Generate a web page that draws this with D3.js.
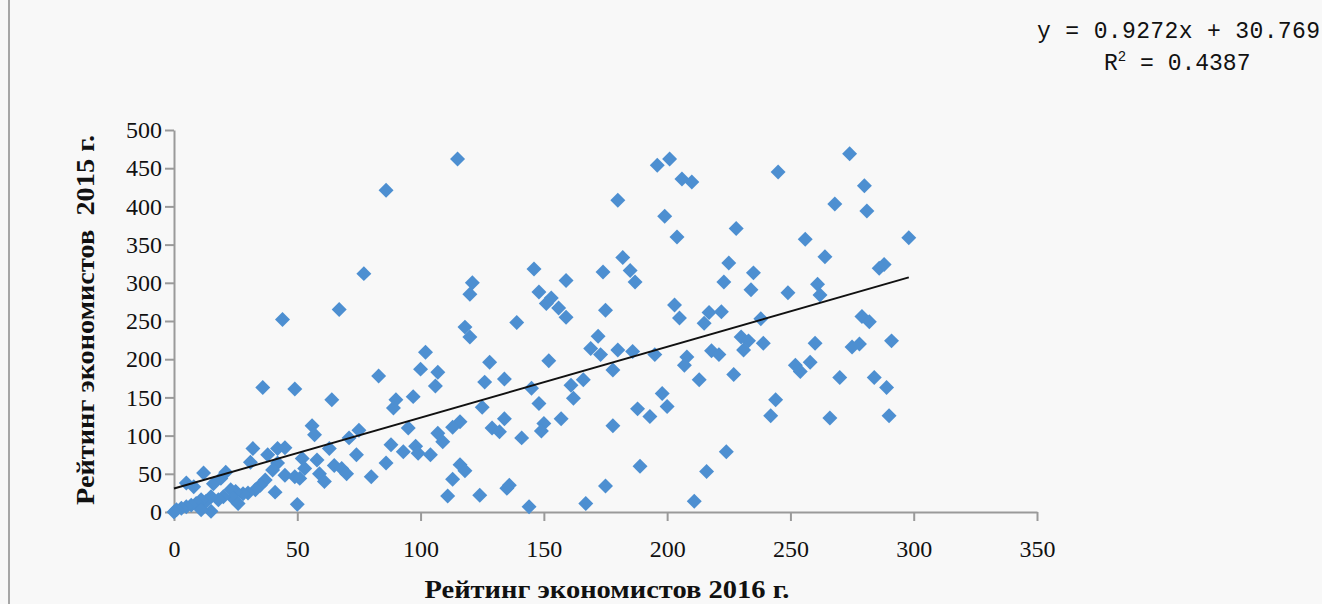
<!DOCTYPE html>
<html>
<head>
<meta charset="utf-8">
<script src="https://cdn.jsdelivr.net/npm/d3@7"></script>
<style>
  html, body { margin: 0; padding: 0; background: #f8f8f8; }
  svg { display: block; }
</style>
</head>
<body>
<div id="chart"></div>
<script>
// rating of economists: 2016 (x) and 2015 (y)
const rating2016 = [
  86, 77, 67, 44, 115, 146, 159, 174, 121, 120, 148, 153, 151, 156, 159, 175, 139, 118,
  196, 201, 206, 210, 245, 180, 199, 204, 228, 256, 264, 182, 185, 187, 225, 235, 223, 234,
  249, 261, 262, 203, 205, 217, 222, 215, 238, 274, 280, 268, 281, 298, 286, 288, 279, 282,
  275, 278, 291, 270, 284, 289, 266, 290, 180, 186, 195, 178, 208, 207, 218, 221, 230, 233,
  231, 239, 260, 252, 254, 258, 213, 227, 198, 200, 188, 193, 178, 244, 242, 224, 189, 216,
  175, 211, 120, 102, 100, 107, 106, 90, 89, 97, 128, 126, 134, 152, 172, 169, 173, 145,
  161, 162, 166, 148, 125, 157, 150, 149, 134, 129, 132, 141, 116, 113, 95, 107, 109, 88,
  93, 98, 99, 104, 86, 116, 118, 113, 136, 135, 111, 124, 144, 167, 83, 36, 49, 64,
  56, 57, 75, 71, 80, 32, 31, 38, 42, 45, 42, 40, 52, 58, 53, 63, 65, 68,
  70, 74, 59, 61, 45, 49, 51, 50, 41, 5, 8, 12, 16, 21, 19, 37, 35, 33,
  30, 28, 25, 23, 24, 26, 20, 18, 15, 13, 11, 9, 7, 5, 3, 1, 15, 11, 0
];
const rating2015 = [
  421, 312, 265, 252, 462, 318, 303, 314, 300, 285, 288, 280, 273, 267, 255, 264, 248, 242,
  454, 462, 436, 432, 445, 408, 387, 360, 371, 357, 334, 333, 316, 301, 326, 313, 301, 291,
  287, 298, 284, 271, 254, 261, 262, 247, 253, 469, 427, 403, 394, 359, 319, 324, 256, 249,
  216, 220, 224, 176, 176, 163, 123, 126, 212, 210, 206, 186, 203, 192, 211, 206, 229, 224,
  212, 221, 221, 192, 184, 196, 173, 180, 155, 138, 135, 125, 113, 147, 126, 79, 60, 53,
  34, 14, 229, 209, 187, 183, 165, 147, 136, 151, 196, 170, 174, 198, 230, 214, 206, 162,
  166, 149, 173, 142, 137, 122, 116, 106, 122, 110, 105, 97, 118, 111, 110, 103, 92, 88,
  79, 86, 77, 75, 64, 62, 54, 43, 35, 31, 21, 22, 7, 11, 178, 163, 161, 147,
  113, 101, 107, 97, 46, 83, 65, 75, 83, 84, 64, 55, 70, 68, 57, 83, 61, 57,
  50, 75, 50, 40, 48, 46, 44, 10, 26, 38, 33, 51, 37, 52, 44, 42, 35, 29,
  25, 24, 27, 29, 18, 11, 20, 16, 20, 14, 16, 11, 9, 7, 5, 3, 1, 3, 0
];

const xTicks = [0, 50, 100, 150, 200, 250, 300, 350];
const yTicks = [0, 50, 100, 150, 200, 250, 300, 350, 400, 450, 500];

const trendSlope = 0.9272;
const trendIntercept = 30.769;
const trendLabel = 'y = 0.9272x + 30.769';
const r2Label = '0.4387';

const xTitle = 'Рейтинг экономистов 2016 г.';
const yTitle = 'Рейтинг экономистов  2015 г.';

const width = 1322;
const height = 604;
const margin = { top: 130, right: 285, bottom: 92, left: 174 };

const data = rating2016.map((v, i) => ({ x: v, y: rating2015[i] }));

const svg = d3.select('#chart')
  .append('svg')
  .attr('width', width)
  .attr('height', height);

// left border of the chart frame
svg.append('line')
  .attr('x1', 9).attr('x2', 9)
  .attr('y1', 0).attr('y2', height)
  .attr('stroke', '#a6a6a6')
  .attr('stroke-width', 2);

const x = d3.scaleLinear()
  .domain([0, 350])
  .range([margin.left, width - margin.right]);

const y = d3.scaleLinear()
  .domain([0, 500])
  .range([height - margin.bottom, margin.top]);

const tickFont = '"Liberation Serif", "DejaVu Serif", serif';
const monoFont = '"Liberation Mono", "DejaVu Sans Mono", monospace';

let xAxis = (g) => {
  g.attr('transform', `translate(0,${height - margin.bottom})`)
    .call(d3.axisBottom(x).tickValues(xTicks).tickSize(9).tickSizeOuter(0).tickPadding(19));
};

let yAxis = (g) => {
  g.attr('transform', `translate(${margin.left},0)`)
    .call(d3.axisLeft(y).tickValues(yTicks).tickSize(9).tickSizeOuter(0).tickPadding(3));
};

svg.append('g').attr('class', 'axis').call(xAxis);
svg.append('g').attr('class', 'axis').call(yAxis);

svg.selectAll('.axis path, .axis line')
  .attr('stroke', '#9a9a9a')
  .attr('stroke-width', 2);
svg.selectAll('.axis text')
  .attr('font-family', tickFont)
  .attr('font-size', '24px')
  .attr('fill', '#111');
svg.selectAll('.axis').attr('font-size', null).attr('font-family', null);

// points: Excel-like diamonds
const diamond = d3.symbol().type(d3.symbolSquare).size(112);
svg.append('g')
  .attr('fill', '#4d8fd1')
  .selectAll('path')
  .data(data)
  .join('path')
  .attr('d', diamond)
  .attr('transform', d => `translate(${x(d.x)},${y(d.y)}) rotate(45)`);

// linear trend line over the data range
const xExtent = d3.extent(rating2016);
const trend = xExtent.map(v => ({ x: v, y: trendSlope * v + trendIntercept }));
svg.append('path')
  .datum(trend)
  .attr('fill', 'none')
  .attr('stroke', '#111')
  .attr('stroke-width', 2)
  .attr('d', d3.line().x(d => x(d.x)).y(d => y(d.y)));

// trend equation
const eq = svg.append('g')
  .attr('font-family', monoFont)
  .attr('font-size', '23px')
  .attr('fill', '#111');
eq.append('text')
  .attr('x', 1320)
  .attr('y', 38)
  .attr('text-anchor', 'end')
  .attr('textLength', 283)
  .attr('xml:space', 'preserve')
  .text(trendLabel);
const r2 = eq.append('text')
  .attr('x', 1104)
  .attr('y', 70);
r2.append('tspan').text('R');
r2.append('tspan').attr('font-size', '14px').attr('dy', -9).text('2');
r2.append('tspan').attr('dy', 9).text(' = ' + r2Label);

// axis titles
svg.append('text')
  .attr('x', 607)
  .attr('y', 598)
  .attr('text-anchor', 'middle')
  .attr('font-family', tickFont)
  .attr('font-weight', 'bold')
  .attr('font-size', '25px')
  .attr('textLength', 365)
  .attr('lengthAdjust', 'spacingAndGlyphs')
  .attr('fill', '#111')
  .text(xTitle);

svg.append('text')
  .attr('transform', `translate(94,${320}) rotate(-90)`)
  .attr('text-anchor', 'middle')
  .attr('font-family', tickFont)
  .attr('font-weight', 'bold')
  .attr('font-size', '25px')
  .attr('textLength', 370)
  .attr('lengthAdjust', 'spacingAndGlyphs')
  .attr('fill', '#111')
  .attr('xml:space', 'preserve')
  .text(yTitle);
</script>
</body>
</html>
